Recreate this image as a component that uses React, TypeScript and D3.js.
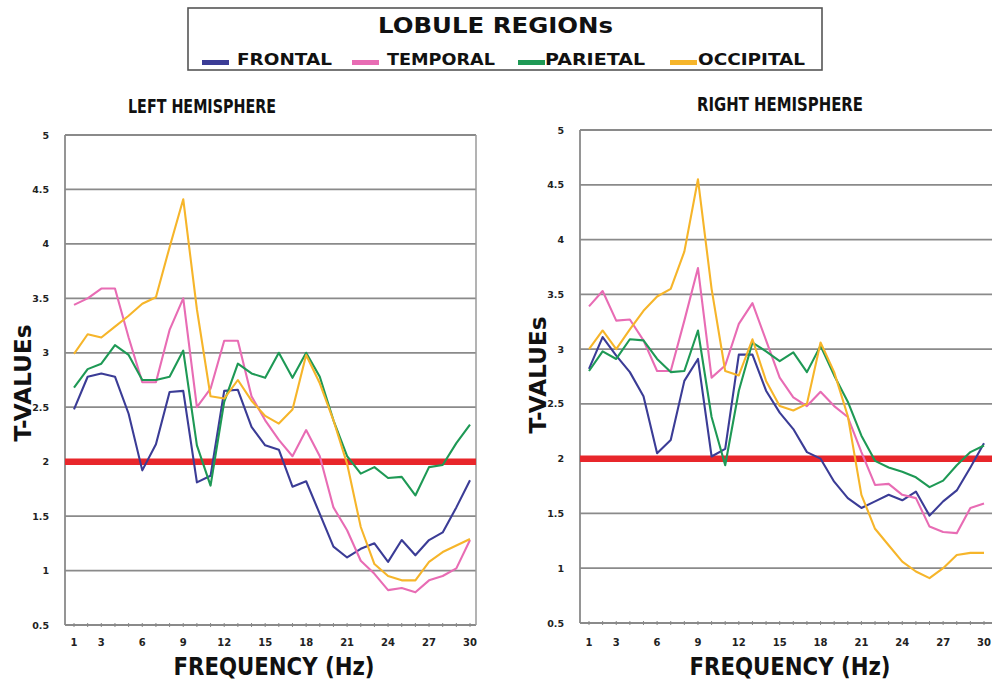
import React from "react";
import * as d3 from "d3";

const frequencies = [1, 2, 3, 4, 5, 6, 7, 8, 9, 10, 11, 12, 13, 14, 15, 16, 17, 18, 19, 20, 21, 22, 23, 24, 25, 26, 27, 28, 29, 30];
const xTickLabels = [1, 3, 6, 9, 12, 15, 18, 21, 24, 27, 30];
const yTickValues = [0.5, 1, 1.5, 2, 2.5, 3, 3.5, 4, 4.5, 5];
const threshold = 2;

const regionNames = ["FRONTAL", "TEMPORAL", "PARIETAL", "OCCIPITAL"];
const regionColors = ["#3b3c96", "#e86cb4", "#1e9955", "#f6b52a"];

const leftFrontal = [2.48, 2.78, 2.81, 2.78, 2.44, 1.92, 2.16, 2.64, 2.65, 1.81, 1.87, 2.65, 2.66, 2.32, 2.15, 2.11, 1.77, 1.82, 1.52, 1.22, 1.12, 1.2, 1.25, 1.08, 1.28, 1.14, 1.28, 1.35, 1.58, 1.83];
const leftTemporal = [3.44, 3.5, 3.59, 3.59, 3.14, 2.73, 2.73, 3.21, 3.5, 2.5, 2.67, 3.11, 3.11, 2.6, 2.38, 2.2, 2.05, 2.29, 2.05, 1.58, 1.37, 1.09, 0.97, 0.82, 0.84, 0.8, 0.91, 0.95, 1.02, 1.28];
const leftParietal = [2.68, 2.85, 2.9, 3.07, 2.98, 2.75, 2.75, 2.78, 3.02, 2.15, 1.78, 2.55, 2.9, 2.81, 2.77, 3.0, 2.77, 3.0, 2.78, 2.38, 2.05, 1.89, 1.95, 1.85, 1.86, 1.69, 1.95, 1.97, 2.17, 2.34];
const leftOccipital = [2.99, 3.17, 3.14, 3.24, 3.34, 3.45, 3.51, 3.97, 4.41, 3.4, 2.6, 2.58, 2.75, 2.56, 2.42, 2.35, 2.48, 2.98, 2.72, 2.38, 1.98, 1.4, 1.06, 0.95, 0.91, 0.91, 1.08, 1.17, 1.23, 1.29];

const rightFrontal = [2.82, 3.11, 2.94, 2.79, 2.57, 2.05, 2.17, 2.71, 2.91, 2.02, 2.09, 2.95, 2.95, 2.62, 2.42, 2.27, 2.06, 2.0, 1.79, 1.64, 1.55, 1.61, 1.67, 1.62, 1.7, 1.48, 1.61, 1.71, 1.92, 2.14];
const rightTemporal = [3.39, 3.53, 3.26, 3.27, 3.08, 2.8, 2.8, 3.26, 3.74, 2.74, 2.85, 3.23, 3.42, 3.08, 2.74, 2.56, 2.48, 2.61, 2.48, 2.38, 2.06, 1.76, 1.77, 1.67, 1.64, 1.38, 1.33, 1.32, 1.55, 1.59];
const rightParietal = [2.8, 2.98, 2.91, 3.09, 3.08, 2.91, 2.79, 2.8, 3.17, 2.38, 1.94, 2.62, 3.06, 2.98, 2.89, 2.97, 2.79, 3.03, 2.76, 2.52, 2.21, 1.98, 1.92, 1.88, 1.83, 1.74, 1.8, 1.94, 2.06, 2.12];
const rightOccipital = [3.0, 3.17, 3.0, 3.18, 3.35, 3.48, 3.55, 3.89, 4.55, 3.55, 2.8, 2.76, 3.09, 2.71, 2.48, 2.44, 2.5, 3.06, 2.79, 2.39, 1.67, 1.36, 1.21, 1.06, 0.97, 0.91, 1.0, 1.12, 1.14, 1.14];

const FONT = "'DejaVu Sans', 'Liberation Sans', Arial, sans-serif";

type PanelProps = {
  title: string;
  titleX: number;
  titleY: number;
  titleLen: number;
  frame: [number, number, number, number];
  pointRange: [number, number];
  series: number[][];
  yLabelRight: number;
  yTitleX: number;
  yTitleY: number;
  xTitleX: number;
  rightBorder: boolean;
};

function Panel(p: PanelProps) {
  const [left, right, top, bottom] = p.frame;
  const x = d3.scaleLinear().domain([1, 30]).range(p.pointRange);
  const y = d3.scaleLinear().domain([0.5, 5]).range([bottom, top]);
  const line = d3
    .line<number>()
    .x((_, i) => x(frequencies[i]))
    .y((d) => y(d));
  return (
    <g>
      <text x={p.titleX} y={p.titleY} textAnchor="middle" fontFamily={FONT} fontWeight="bold" fontSize={20}
        textLength={p.titleLen} lengthAdjust="spacingAndGlyphs" fill="#111">{p.title}</text>
      {yTickValues.map((v) => (
        <line key={"g" + v} x1={left} x2={right} y1={y(v)} y2={y(v)} stroke="#8a8a8a" strokeWidth={1.8} />
      ))}
      <line x1={left} x2={left} y1={top} y2={bottom} stroke="#8a8a8a" strokeWidth={1.8} />
      {p.rightBorder && <line x1={right} x2={right} y1={top} y2={bottom} stroke="#9a9a9a" strokeWidth={1.5} />}
      {frequencies.map((f) => (
        <line key={"t" + f} x1={x(f)} x2={x(f)} y1={bottom - 2} y2={bottom + 2} stroke="#888" strokeWidth={1} />
      ))}
      {yTickValues.map((v) => (
        <text key={"yl" + v} x={p.yLabelRight} y={y(v) + 3.5} textAnchor="end" fontFamily={FONT} fontWeight="bold"
          fontSize={9.5} fill="#222">{v}</text>
      ))}
      {xTickLabels.map((f) => (
        <text key={"xl" + f} x={x(f)} y={646} textAnchor="middle" fontFamily={FONT} fontWeight="bold" fontSize={10}
          fill="#222">{f}</text>
      ))}
      <line x1={left} x2={right} y1={y(threshold)} y2={y(threshold)} stroke="#e8262b" strokeWidth={6.5} />
      {p.series.map((s, k) => (
        <path key={"s" + k} d={line(s) || ""} fill="none" stroke={regionColors[k]} strokeWidth={2.1}
          strokeLinejoin="round" />
      ))}
      <text transform={`translate(${p.yTitleX},${p.yTitleY}) rotate(-90)`} textAnchor="middle" fontFamily={FONT}
        fontWeight="bold" fontSize={23} textLength={117} lengthAdjust="spacingAndGlyphs" fill="#111">T-VALUEs</text>
      <text x={p.xTitleX} y={675} textAnchor="middle" fontFamily={FONT} fontWeight="bold" fontSize={24}
        textLength={201} lengthAdjust="spacingAndGlyphs" fill="#111">FREQUENCY (Hz)</text>
    </g>
  );
}

const legendSwatchX = [202, 352, 518, 670];
const legendTextX = [237, 387, 545, 698];
const legendTextLen = [95, 108, 100, 107];

export default function App() {
  return (
    <svg width={993} height={681} style={{ position: "absolute", left: 0, top: 0, background: "#fff" }}>
      <rect x={0} y={0} width={993} height={681} fill="#fff" />
      <rect x={188} y={8} width={634} height={62} fill="none" stroke="#555" strokeWidth={1.6} />
      <text x={495.5} y={33} textAnchor="middle" fontFamily={FONT} fontWeight="bold" fontSize={21}
        textLength={235} lengthAdjust="spacingAndGlyphs" fill="#111">LOBULE REGIONs</text>
      {regionNames.map((n, k) => (
        <g key={n}>
          <rect x={legendSwatchX[k]} y={60} width={27} height={5} fill={regionColors[k]} />
          <text x={legendTextX[k]} y={65} fontFamily={FONT} fontWeight="bold" fontSize={16}
            textLength={legendTextLen[k]} lengthAdjust="spacingAndGlyphs" fill="#111">{n}</text>
        </g>
      ))}
      <Panel title="LEFT HEMISPHERE" titleX={202} titleY={113} titleLen={148}
        frame={[65, 476, 135, 625]} pointRange={[74, 470]}
        series={[leftFrontal, leftTemporal, leftParietal, leftOccipital]}
        yLabelRight={49} yTitleX={31} yTitleY={383} xTitleX={274} rightBorder={true} />
      <Panel title="RIGHT HEMISPHERE" titleX={780} titleY={111} titleLen={166}
        frame={[580, 992, 130, 623]} pointRange={[589, 984]}
        series={[rightFrontal, rightTemporal, rightParietal, rightOccipital]}
        yLabelRight={564} yTitleX={546} yTitleY={375} xTitleX={790} rightBorder={false} />
    </svg>
  );
}
